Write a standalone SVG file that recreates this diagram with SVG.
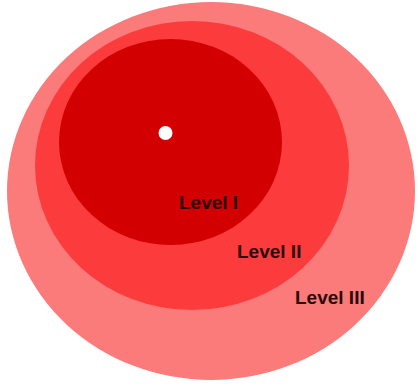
<svg xmlns="http://www.w3.org/2000/svg" width="418" height="387" viewBox="0 0 418 387">
<style>
.lbl{font-family:"Liberation Sans",Arial,sans-serif;font-weight:bold;font-size:19px;fill:#2a0808}
</style>
<rect width="418" height="387" fill="#ffffff"/>
<g id="level3"><ellipse cx="211" cy="191" rx="204" ry="189" fill="#fb7a7a"/><text class="lbl" x="295" y="304">Level III</text></g>
<g id="level2"><ellipse cx="192" cy="165.5" rx="157" ry="144.5" fill="#fc3c3c"/><text class="lbl" x="237" y="258">Level II</text></g>
<g id="level1"><ellipse cx="170.5" cy="142" rx="111.5" ry="103" fill="#d20000"/><text class="lbl" x="179" y="209">Level I</text></g>
<g id="center"><circle cx="165.5" cy="133" r="7" fill="#ffffff"/></g>
<g id="connectors"/>
</svg>
